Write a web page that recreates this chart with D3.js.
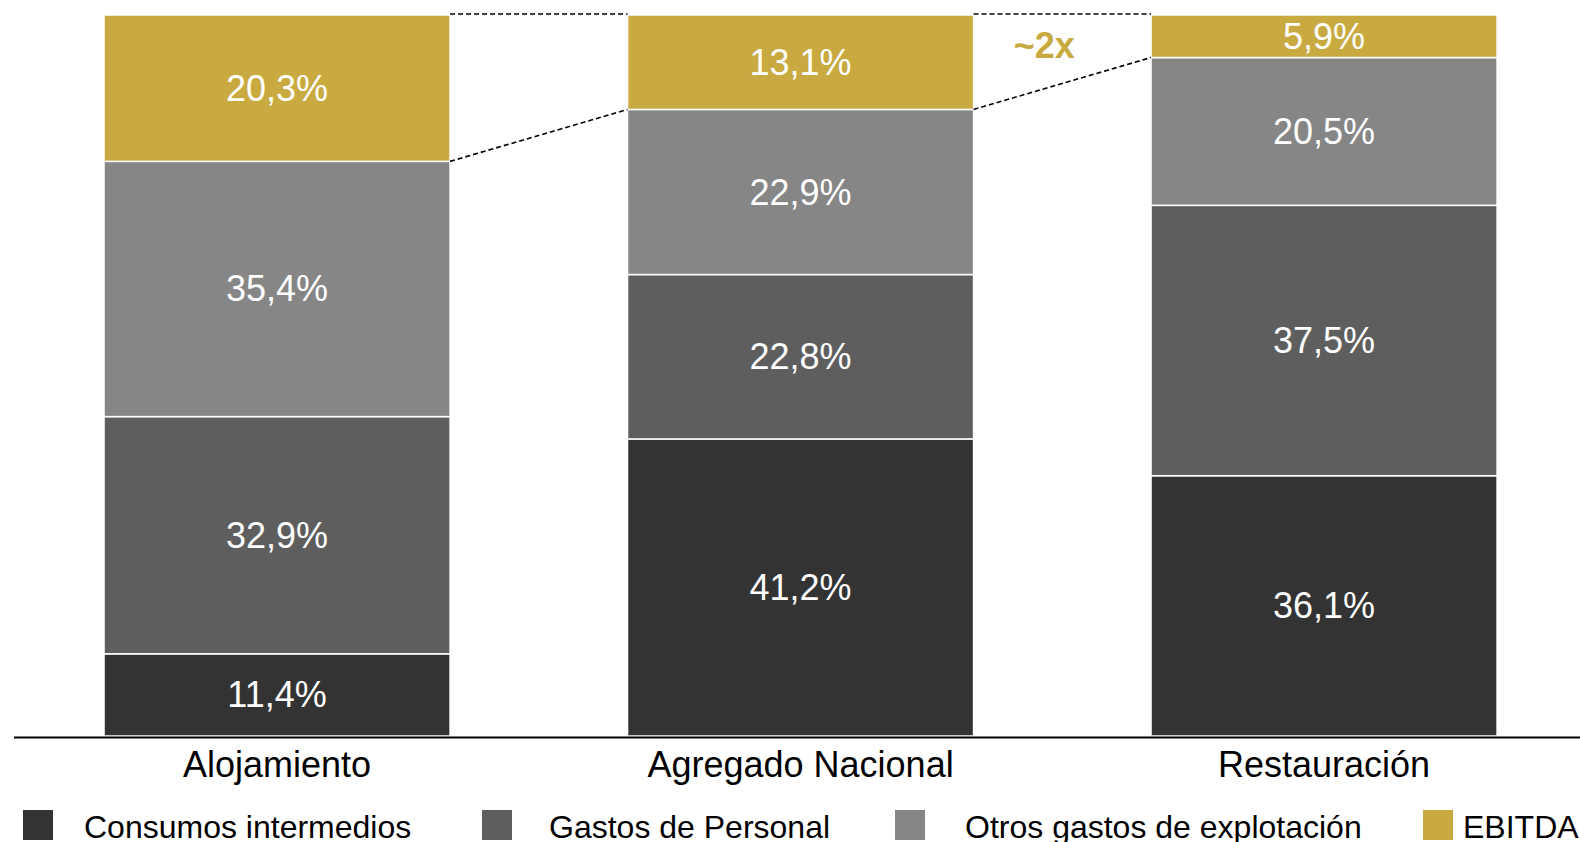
<!DOCTYPE html>
<html><head><meta charset="utf-8">
<script src="https://cdn.jsdelivr.net/npm/d3@7"></script>
<style>html,body{margin:0;padding:0;background:#fff;overflow:hidden}svg{display:block;font-family:"Liberation Sans",Arial,sans-serif}</style>
</head><body>
<svg id="chart" width="1580" height="842"></svg>
<script>
const categories = ["Alojamiento", "Agregado Nacional", "Restauración"];
const seriesNames = ["Consumos intermedios", "Gastos de Personal", "Otros gastos de explotación", "EBITDA"];
const consumos = [11.4, 41.2, 36.1];
const personal = [32.9, 22.8, 37.5];
const otros = [35.4, 22.9, 20.5];
const ebitda = [20.3, 13.1, 5.9];
const colors = ["#333333", "#5e5e5e", "#868686", "#c8aa40"];
const annotation = "~2x";

const svg = d3.select("#chart");
const values = [consumos, personal, otros, ebitda];
const rows = categories.map((c, i) => {
  const r = {cat: c};
  seriesNames.forEach((s, j) => r[s] = values[j][i]);
  return r;
});
const stack = d3.stack().keys(seriesNames)(rows);

const x = d3.scaleBand().domain(categories).range([15.3, 1585.8]).paddingInner(0.339).paddingOuter(0.1695);
const y = d3.scaleLinear().domain([0, 100]).range([736, 15]);
const fmt = v => d3.format(".1f")(v).replace(".", ",") + "%";

const layers = svg.append("g").selectAll("g").data(stack).join("g")
  .attr("fill", (d, i) => colors[i]);
layers.selectAll("rect").data(d => d.map(p => ({p, key: d.key}))).join("rect")
  .attr("x", d => x(d.p.data.cat))
  .attr("width", x.bandwidth())
  .attr("y", d => y(d.p[1]))
  .attr("height", d => y(d.p[0]) - y(d.p[1]))
  .attr("stroke", "#fff").attr("stroke-width", 1.5);

layers.selectAll("text").data(d => d.map(p => ({p, key: d.key}))).join("text")
  .attr("x", d => x(d.p.data.cat) + x.bandwidth() / 2)
  .attr("y", d => (y(d.p[0]) + y(d.p[1])) / 2 + 12.5)
  .attr("text-anchor", "middle")
  .attr("fill", "#fff")
  .style("font-size", "36px")
  .text(d => fmt(d.p[1] - d.p[0]));

// connectors (dashed)
const conn = svg.append("g").attr("stroke", "#000").attr("stroke-width", 1.6).attr("stroke-dasharray", "5,3").attr("fill", "none");
for (let i = 0; i < categories.length - 1; i++) {
  const x1 = x(categories[i]) + x.bandwidth(), x2 = x(categories[i + 1]);
  conn.append("line").attr("x1", x1).attr("x2", x2).attr("y1", y(100) - 1).attr("y2", y(100) - 1);
  conn.append("line").attr("x1", x1).attr("x2", x2)
    .attr("y1", y(100 - ebitda[i])).attr("y2", y(100 - ebitda[i + 1]));
}

// annotation
svg.append("text").attr("x", (x(categories[1]) + x.bandwidth() + x(categories[2])) / 2 - 18).attr("y", 58)
  .attr("text-anchor", "middle").attr("fill", colors[3]).style("font-size", "36px").style("font-weight", "bold")
  .text(annotation);

// axis
const axis = svg.append("g").attr("transform", "translate(0,737)").call(d3.axisBottom(x).tickSize(0).tickPadding(0));
axis.select(".domain").remove();
svg.append("line").attr("x1", 14).attr("x2", 1580).attr("y1", 737.5).attr("y2", 737.5).attr("stroke", "#000").attr("stroke-width", 2);
axis.selectAll("text").attr("dy", 0).attr("y", 40).attr("fill", "#000")
  .style("font-size", "36px").style("font-family", "'Liberation Sans', Arial, sans-serif");

// legend
const legX = [23, 482, 895, 1423];
const legTX = [84, 549, 965, 1463];
const leg = svg.append("g");
seriesNames.forEach((s, i) => {
  leg.append("rect").attr("x", legX[i]).attr("y", 810).attr("width", 30).attr("height", 30).attr("fill", colors[i]);
  leg.append("text").attr("x", legTX[i]).attr("y", 838).attr("fill", "#000").style("font-size", "32px").text(s);
});
</script>
</body></html>
